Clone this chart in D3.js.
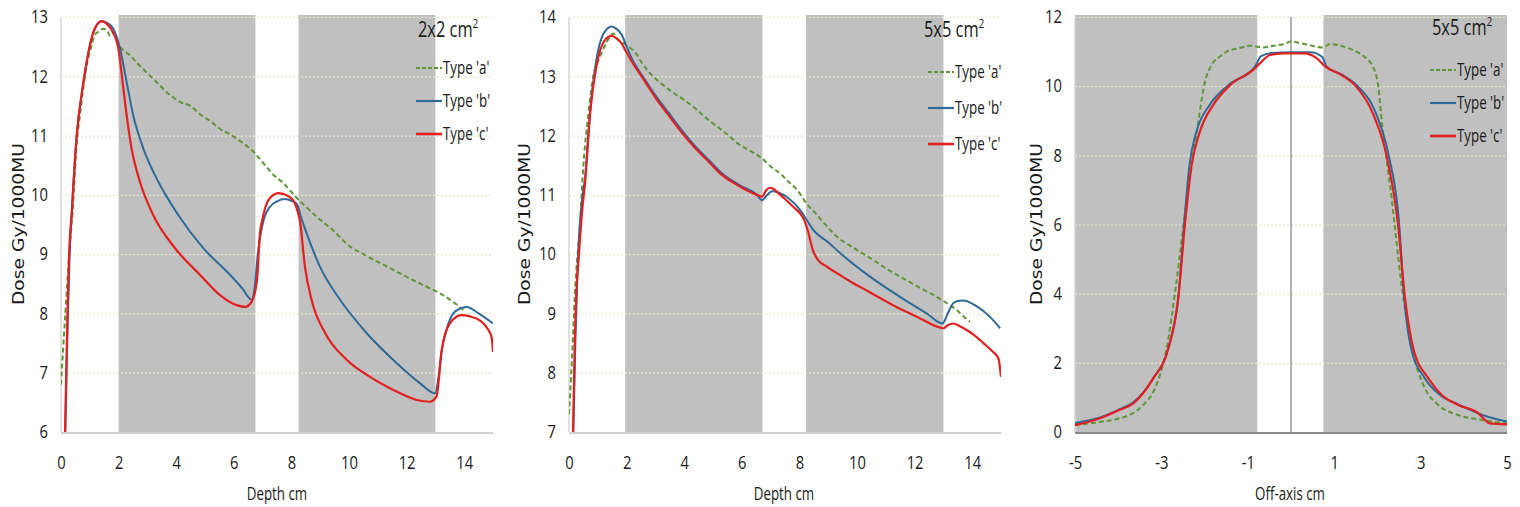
<!DOCTYPE html>
<html>
<head>
<meta charset="utf-8">
<script src="https://cdn.jsdelivr.net/npm/d3@7"></script>
<style>
  body { margin: 0; background: #fff; }
  svg { display: block; }
  .tick text { font-family: "Open Sans", sans-serif; font-size: 18px; fill: #1a1a1a; }
  .axis-title { font-family: "Open Sans", sans-serif; font-size: 19px; fill: #1a1a1a; }
  .y-title { font-family: "DejaVu Sans", Verdana, sans-serif; font-size: 15px; fill: #1a1a1a; }
  .legend text { font-family: "Open Sans", sans-serif; font-size: 18px; fill: #1a1a1a; }
  .field { font-family: "Open Sans", sans-serif; font-size: 21px; fill: #1a1a1a; }
</style>
</head>
<body>
<svg id="chart"></svg>
<script>
// series names
const seriesNames = ["Type 'a'", "Type 'b'", "Type 'c'"];

// ---- panel 1: depth dose, 2x2 cm2 ----
const depth2A = [[0,6.8],[0.15,8.0],[0.3,9.1],[0.4,9.7],[0.55,10.9],[0.66,11.35],[0.8,11.9],[0.9,12.2],[1.05,12.5],[1.18,12.7],[1.3,12.75],[1.45,12.8],[1.59,12.78],[1.7,12.68],[1.8,12.72],[2.05,12.5],[2.4,12.35],[2.69,12.2],[3.0,12.05],[3.32,11.9],[3.7,11.72],[4.13,11.57],[4.53,11.49],[4.85,11.35],[5.2,11.24],[5.5,11.12],[5.87,11.02],[6.3,10.88],[6.68,10.73],[7.0,10.55],[7.37,10.34],[7.72,10.2],[8.2,9.94],[8.5,9.8],[8.88,9.63],[9.45,9.4],[10.03,9.13],[10.5,9.0],[11.08,8.85],[11.6,8.72],[12.23,8.56],[12.7,8.45],[13.16,8.34],[13.6,8.2],[13.97,8.06]];
const depth2B = [[0.15,6.0],[0.22,7.6],[0.3,9.0],[0.37,9.7],[0.54,10.97],[0.78,11.9],[0.98,12.47],[1.18,12.81],[1.41,12.93],[1.6,12.9],[1.82,12.8],[2.05,12.47],[2.28,11.9],[2.51,11.34],[2.86,10.78],[3.38,10.22],[4.07,9.66],[4.94,9.1],[5.87,8.65],[6.3,8.42],[6.62,8.23],[6.7,8.35],[6.85,9.07],[7.05,9.6],[7.26,9.8],[7.5,9.89],[7.78,9.93],[8.0,9.9],[8.18,9.85],[8.35,9.6],[8.53,9.35],[8.99,8.79],[9.69,8.23],[10.61,7.67],[11.66,7.16],[12.47,6.82],[12.99,6.65],[13.1,6.9],[13.22,7.38],[13.4,7.75],[13.62,8.0],[13.85,8.08],[14.09,8.11],[14.5,8.0],[15,7.83]];
const depth2C = [[0.14,6.0],[0.22,7.9],[0.3,9.2],[0.37,9.66],[0.54,10.97],[0.78,11.9],[0.98,12.47],[1.18,12.81],[1.41,12.93],[1.6,12.88],[1.76,12.78],[1.99,12.47],[2.14,11.9],[2.28,11.34],[2.45,10.78],[2.74,10.22],[3.2,9.66],[3.96,9.1],[4.83,8.65],[5.52,8.31],[6.1,8.14],[6.39,8.11],[6.62,8.2],[6.8,8.54],[6.91,9.36],[7.0,9.6],[7.2,9.91],[7.54,10.03],[7.8,10.0],[8.06,9.91],[8.2,9.75],[8.3,9.55],[8.47,8.79],[8.7,8.23],[9.17,7.67],[9.92,7.22],[10.73,6.93],[11.54,6.71],[12.35,6.54],[12.81,6.51],[13.04,6.6],[13.22,7.38],[13.5,7.83],[13.91,7.97],[14.2,7.95],[14.55,7.88],[14.8,7.75],[14.95,7.6],[15,7.35]];

// ---- panel 2: depth dose, 5x5 cm2 ----
const depth5A = [[0,7.3],[0.1,8.2],[0.2,9.3],[0.38,10.5],[0.5,11.5],[0.67,12.35],[0.85,13.02],[1.05,13.3],[1.25,13.52],[1.4,13.65],[1.54,13.72],[1.7,13.62],[1.83,13.58],[2.05,13.5],[2.29,13.41],[2.5,13.25],[2.76,13.08],[3.1,12.92],[3.57,12.74],[4.0,12.6],[4.38,12.46],[4.7,12.32],[5.07,12.18],[5.5,12.02],[5.88,11.86],[6.3,11.74],[6.69,11.62],[7.0,11.48],[7.38,11.34],[7.56,11.25],[7.96,11.06],[8.25,10.85],[8.54,10.7],[8.9,10.5],[9.29,10.3],[9.9,10.1],[10.57,9.9],[11.1,9.73],[11.72,9.56],[12.2,9.43],[12.77,9.28],[13.1,9.18],[13.46,9.06],[13.7,8.95],[13.92,8.86]];
const depth5B = [[0.15,7.0],[0.22,8.5],[0.3,9.8],[0.45,10.9],[0.56,11.3],[0.73,12.4],[0.96,13.3],[1.2,13.72],[1.48,13.84],[1.65,13.8],[1.83,13.7],[2.0,13.5],[2.18,13.3],[2.6,12.97],[3.0,12.68],[3.45,12.39],[3.9,12.1],[4.38,11.82],[4.85,11.59],[5.3,11.37],[5.9,11.17],[6.52,11.0],[6.7,10.91],[6.85,10.98],[7.05,11.06],[7.27,11.04],[7.6,10.95],[8.0,10.76],[8.25,10.58],[8.48,10.41],[9.0,10.2],[9.41,10.02],[10.45,9.62],[11.49,9.28],[12.42,9.0],[12.97,8.83],[13.15,9.0],[13.34,9.17],[13.5,9.21],[13.69,9.22],[14.16,9.12],[14.6,8.95],[14.97,8.75]];
const depth5C = [[0.14,7.0],[0.2,8.5],[0.27,9.5],[0.32,9.82],[0.45,10.7],[0.56,11.22],[0.73,12.35],[0.96,13.19],[1.25,13.61],[1.48,13.68],[1.65,13.64],[1.83,13.55],[2.0,13.4],[2.18,13.25],[2.64,12.91],[3.0,12.64],[3.45,12.35],[3.9,12.06],[4.38,11.79],[4.85,11.56],[5.3,11.34],[5.9,11.15],[6.52,11.0],[6.7,10.97],[6.85,11.08],[6.98,11.12],[7.1,11.1],[7.27,11.03],[7.5,10.93],[7.85,10.77],[8.02,10.69],[8.19,10.55],[8.3,10.38],[8.48,10.05],[8.65,9.9],[8.95,9.79],[9.4,9.65],[9.87,9.51],[10.4,9.37],[10.91,9.23],[11.4,9.1],[11.84,9.0],[12.3,8.89],[12.77,8.78],[13.0,8.75],[13.15,8.8],[13.34,8.83],[13.55,8.79],[13.81,8.72],[14.1,8.62],[14.39,8.5],[14.7,8.36],[14.91,8.24],[15,7.93]];

// ---- panel 3: off-axis profile, 5x5 cm2 ----
const profile5A = [[-5,0.2],[-4.5,0.28],[-3.96,0.4],[-3.65,0.55],[-3.42,0.78],[-3.15,1.26],[-2.88,2.42],[-2.65,4.35],[-2.41,6.76],[-2.18,8.68],[-1.99,10.13],[-1.84,10.61],[-1.65,10.85],[-1.49,11.0],[-1.2,11.1],[-0.95,11.17],[-0.78,11.14],[-0.65,11.12],[-0.4,11.17],[-0.18,11.21],[0,11.29],[0.2,11.25],[0.45,11.18],[0.74,11.12],[0.9,11.22],[1.2,11.15],[1.48,11.02],[1.67,10.88],[1.9,10.55],[2.02,10.0],[2.1,9.0],[2.33,6.76],[2.55,4.35],[2.8,2.42],[3.1,1.26],[3.41,0.78],[3.87,0.49],[4.41,0.35],[5,0.25]];
const profile5B = [[-5,0.26],[-4.42,0.42],[-3.96,0.66],[-3.65,0.86],[-3.19,1.55],[-2.84,2.42],[-2.61,3.87],[-2.47,6.08],[-2.35,7.72],[-2.19,8.68],[-1.88,9.46],[-1.45,10.03],[-0.83,10.57],[-0.7,10.86],[-0.45,10.96],[0,10.98],[0.45,10.98],[0.72,10.85],[0.82,10.57],[1.2,10.32],[1.52,10.03],[1.98,9.17],[2.26,8.01],[2.5,6.08],[2.62,3.87],[2.78,2.42],[3.1,1.55],[3.45,1.07],[3.87,0.8],[4.41,0.5],[5,0.3]];
const profile5C = [[-5,0.2],[-4.42,0.4],[-3.96,0.64],[-3.65,0.83],[-3.19,1.55],[-2.84,2.42],[-2.61,3.87],[-2.45,6.08],[-2.3,7.72],[-2.11,8.68],[-1.8,9.46],[-1.41,10.03],[-0.83,10.52],[-0.72,10.66],[-0.49,10.9],[-0.18,10.95],[0.32,10.95],[0.59,10.81],[0.79,10.57],[1.17,10.32],[1.48,10.03],[1.91,9.17],[2.21,8.01],[2.47,6.08],[2.64,3.87],[2.83,2.42],[3.18,1.55],[3.49,1.07],[3.87,0.78],[4.34,0.54],[4.49,0.35],[4.6,0.25],[5,0.22]];

// grey bands (x ranges)
const bandsDepth2 = [[2, 6.75], [8.25, 13]];
const bandsDepth5 = [[1.95, 6.72], [8.23, 13]];
const bandsProfile = [[-5, -0.78], [0.75, 5]];

// tick labels
const depthTicks = [0, 2, 4, 6, 8, 10, 12, 14];
const profileTicks = [-5, -3, -1, 1, 3, 5];
const doseTicks2 = [6, 7, 8, 9, 10, 11, 12, 13];
const doseTicks5 = [7, 8, 9, 10, 11, 12, 13, 14];
const profileDoseTicks = [0, 2, 4, 6, 8, 10, 12];

const colors = ["#5f9636", "#2e6a98", "#e31f1f"];

// squeeze text horizontally (the original font is a narrow one)
function condense(sel, factor) {
  sel.each(function () {
    const w = this.getComputedTextLength();
    d3.select(this).attr('textLength', w * factor).attr('lengthAdjust', 'spacingAndGlyphs');
  });
}

class DosePanel {
  constructor(_config, _series, _bands) {
    this.config = _config;
    this.series = _series;
    this.bands = _bands;
    this.initVis();
  }

  initVis() {
    let vis = this;
    const c = vis.config;
    vis.width = c.right - c.left;
    vis.height = c.bottom - c.top;

    vis.xScale = d3.scaleLinear().domain(c.xDomain).range([0, vis.width]);
    vis.yScale = d3.scaleLinear().domain(c.yDomain).range([vis.height, 0]);

    vis.chart = d3.select('#chart').append('g')
        .attr('transform', `translate(${c.left},${c.top})`);

    vis.chart.append('clipPath').attr('id', 'clip' + c.id)
      .append('rect').attr('x', 0).attr('y', -2).attr('width', vis.width).attr('height', vis.height + 2);
  }

  updateVis() {
    let vis = this;
    const c = vis.config;

    // grey shaded bands
    vis.chart.append('g').selectAll('rect')
      .data(vis.bands)
      .join('rect')
      .attr('x', d => vis.xScale(d[0]))
      .attr('width', d => vis.xScale(d[1]) - vis.xScale(d[0]))
      .attr('y', -2)
      .attr('height', vis.height + 2)
      .attr('fill', '#c0c0c0');

    // dotted gridlines
    const grid = vis.chart.append('g')
      .call(d3.axisLeft(vis.yScale).tickValues(c.yTicks).tickSize(-vis.width).tickFormat(''));
    grid.select('.domain').remove();
    grid.selectAll('line').attr('stroke', '#e2e8c8').attr('stroke-dasharray', '2,2').attr('stroke-width', 1.2);

    // axis lines
    vis.chart.append('line')
      .attr('x1', 0).attr('x2', 0).attr('y1', 0).attr('y2', vis.height)
      .attr('stroke', '#d6d6d6').attr('stroke-width', 1.5);
    vis.chart.append('line')
      .attr('x1', 0).attr('x2', vis.width).attr('y1', vis.height + 1).attr('y2', vis.height + 1)
      .attr('stroke', c.centerLine ? '#8a8a8a' : '#cfcfcf').attr('stroke-width', 2);

    if (c.centerLine) {
      vis.chart.append('line')
        .attr('x1', vis.xScale(0)).attr('x2', vis.xScale(0)).attr('y1', 0).attr('y2', vis.height)
        .attr('stroke', '#7d7d7d').attr('stroke-width', 1.2);
    }

    // axes (labels only)
    const yAxisG = vis.chart.append('g')
      .call(d3.axisLeft(vis.yScale).tickValues(c.yTicks).tickSize(0).tickPadding(13).tickFormat(d => String(d)));
    yAxisG.select('.domain').remove();
    condense(yAxisG.selectAll('text'), 0.82);

    const xAxisG = vis.chart.append('g')
      .attr('transform', `translate(0,${vis.height})`)
      .call(d3.axisBottom(vis.xScale).tickValues(c.xTicks).tickSize(0).tickFormat(d => String(d)));
    xAxisG.select('.domain').remove();
    xAxisG.selectAll('text').attr('y', 37).attr('dy', 0);
    condense(xAxisG.selectAll('text'), 0.82);

    // curves
    const line = d3.line()
      .x(d => vis.xScale(d[0]))
      .y(d => vis.yScale(d[1]))
      .curve(d3.curveMonotoneX);

    vis.chart.append('g').attr('clip-path', `url(#clip${c.id})`)
      .selectAll('path')
      .data(vis.series)
      .join('path')
      .attr('d', d => line(d))
      .attr('fill', 'none')
      .attr('stroke', (d, i) => colors[i])
      .attr('stroke-width', (d, i) => i === 2 ? 2.2 : 2)
      .attr('stroke-dasharray', (d, i) => i === 0 ? '5,3' : null);

    // titles
    vis.chart.append('text')
      .attr('class', 'y-title')
      .attr('transform', `translate(${c.yTitleX - c.left},${224 - c.top}) rotate(-90)`)
      .attr('text-anchor', 'middle')
      .attr('textLength', 162)
      .attr('lengthAdjust', 'spacingAndGlyphs')
      .text('Dose Gy/1000MU');

    const xt = vis.chart.append('text')
      .attr('class', 'axis-title')
      .attr('x', c.xTitleX - c.left)
      .attr('y', 500 - c.top)
      .attr('text-anchor', 'middle')
      .text(c.xLabel);
    condense(xt, 0.7);

    // field size label
    const f = vis.chart.append('text')
      .attr('class', 'field')
      .attr('transform', `translate(${c.fieldX - c.left},${c.fieldY - c.top}) scale(0.78,1)`);
    f.append('tspan').text(c.field + ' cm');
    f.append('tspan').attr('font-size', '13px').attr('dy', -9).text('2');

    // legend
    const lg = vis.chart.append('g').attr('class', 'legend')
      .selectAll('g')
      .data(seriesNames)
      .join('g')
      .attr('transform', (d, i) => `translate(${c.legendX - c.left},${c.legendY[i] - c.top})`);
    lg.append('line')
      .attr('x1', 0).attr('x2', 26)
      .attr('stroke', (d, i) => colors[i])
      .attr('stroke-width', (d, i) => i === 2 ? 2.6 : 2.2)
      .attr('stroke-dasharray', (d, i) => i === 0 ? '4,2' : null);
    const lt = lg.append('text')
      .attr('x', 27)
      .attr('dy', '0.36em')
      .text(d => d);
    condense(lt, 0.74);
  }
}

d3.select('#chart').attr('width', 1520).attr('height', 507);

const panels = [
  new DosePanel({id: 1, left: 61, right: 493, top: 17, bottom: 432, xDomain: [0, 15], yDomain: [6, 13],
    xTicks: depthTicks, yTicks: doseTicks2, xLabel: 'Depth cm', xTitleX: 277, yTitleX: 24,
    field: '2x2', fieldX: 418, fieldY: 37, legendX: 416, legendY: [68, 101, 134], centerLine: false},
    [depth2A, depth2B, depth2C], bandsDepth2),
  new DosePanel({id: 2, left: 569, right: 1001, top: 17, bottom: 432, xDomain: [0, 15], yDomain: [7, 14],
    xTicks: depthTicks, yTicks: doseTicks5, xLabel: 'Depth cm', xTitleX: 784, yTitleX: 530,
    field: '5x5', fieldX: 924, fieldY: 37, legendX: 928, legendY: [72, 108, 144], centerLine: false},
    [depth5A, depth5B, depth5C], bandsDepth5),
  new DosePanel({id: 3, left: 1075, right: 1507, top: 17, bottom: 432, xDomain: [-5, 5], yDomain: [0, 12],
    xTicks: profileTicks, yTicks: profileDoseTicks, xLabel: 'Off-axis cm', xTitleX: 1290, yTitleX: 1042,
    field: '5x5', fieldX: 1432, fieldY: 35, legendX: 1430, legendY: [70, 103, 136], centerLine: true},
    [profile5A, profile5B, profile5C], bandsProfile)
];

panels.forEach(p => p.updateVis());
</script>
</body>
</html>
